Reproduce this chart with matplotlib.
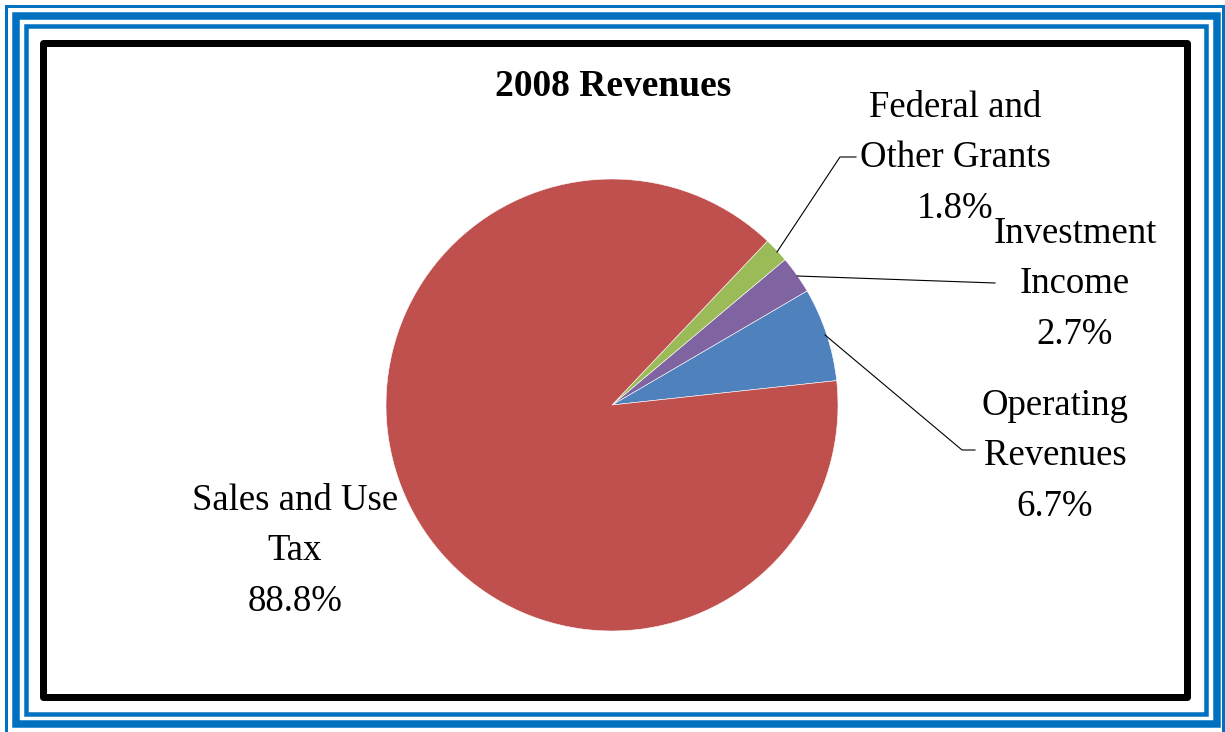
import matplotlib.pyplot as plt
from matplotlib.patches import Rectangle

# Data
categories = ['Operating\nRevenues', 'Investment\nIncome', 'Federal and\nOther Grants', 'Sales and Use\nTax']
shares = [6.7, 2.7, 1.8, 88.8]
colors = ['#4F81BD', '#8064A2', '#9BBB59', '#C0504D']

W, H = 1225, 732
plt.rcParams['font.family'] = ['Liberation Serif', 'DejaVu Serif']

fig = plt.figure(figsize=(W / 100, H / 100), dpi=100)
ax = fig.add_axes([0, 0, 1, 1])

def Y(py):
    return H - py

px = 0.72  # points per pixel

# blue triple frame
for x0, y0, x1, y1, lw in [(5.5, 5.5, 1222.5, 734, 3),
                           (15.5, 15.5, 1216.5, 724, 7.5),
                           (26, 26, 1205.5, 714, 4.5)]:
    ax.add_patch(Rectangle((x0, Y(y1)), x1 - x0, y1 - y0, fill=False,
                           edgecolor='#0070C0', linewidth=lw * px))

# black chart box
ax.add_patch(Rectangle((42.5, Y(696.5)), 1187 - 42.5, 696.5 - 42.5, fill=False,
                       edgecolor='black', linewidth=7 * px, joinstyle='round'))

# pie
ax.pie(shares, colors=colors, startangle=6.2, counterclock=True,
       center=(612, Y(405)), radius=226, frame=True,
       wedgeprops=dict(edgecolor='white', linewidth=0.4))

ax.set_xlim(0, W)
ax.set_ylim(0, H)
ax.set_aspect('auto')
ax.axis('off')

# title
ax.text(613, Y(86), '2008 Revenues', ha='center', va='center',
        fontsize=27, fontweight='bold')

# data labels
label_pos = [(1055, 456), (1075, 284), (955, 158), (295, 551)]
for cat, val, (lx, ly) in zip(categories, shares, label_pos):
    ax.text(lx, Y(ly), f'{cat}\n{val:.1f}%', ha='center', va='center',
            fontsize=26.5, linespacing=1.6)

# leader lines
leaders = [
    [(825, 335), (962, 450), (975, 450)],
    [(797, 276), (995, 283)],
    [(777, 252), (840, 157), (856, 157)],
]
for pts in leaders:
    ax.plot([p[0] for p in pts], [Y(p[1]) for p in pts], color='black', lw=0.8)

fig.savefig('out.png', dpi=100)
